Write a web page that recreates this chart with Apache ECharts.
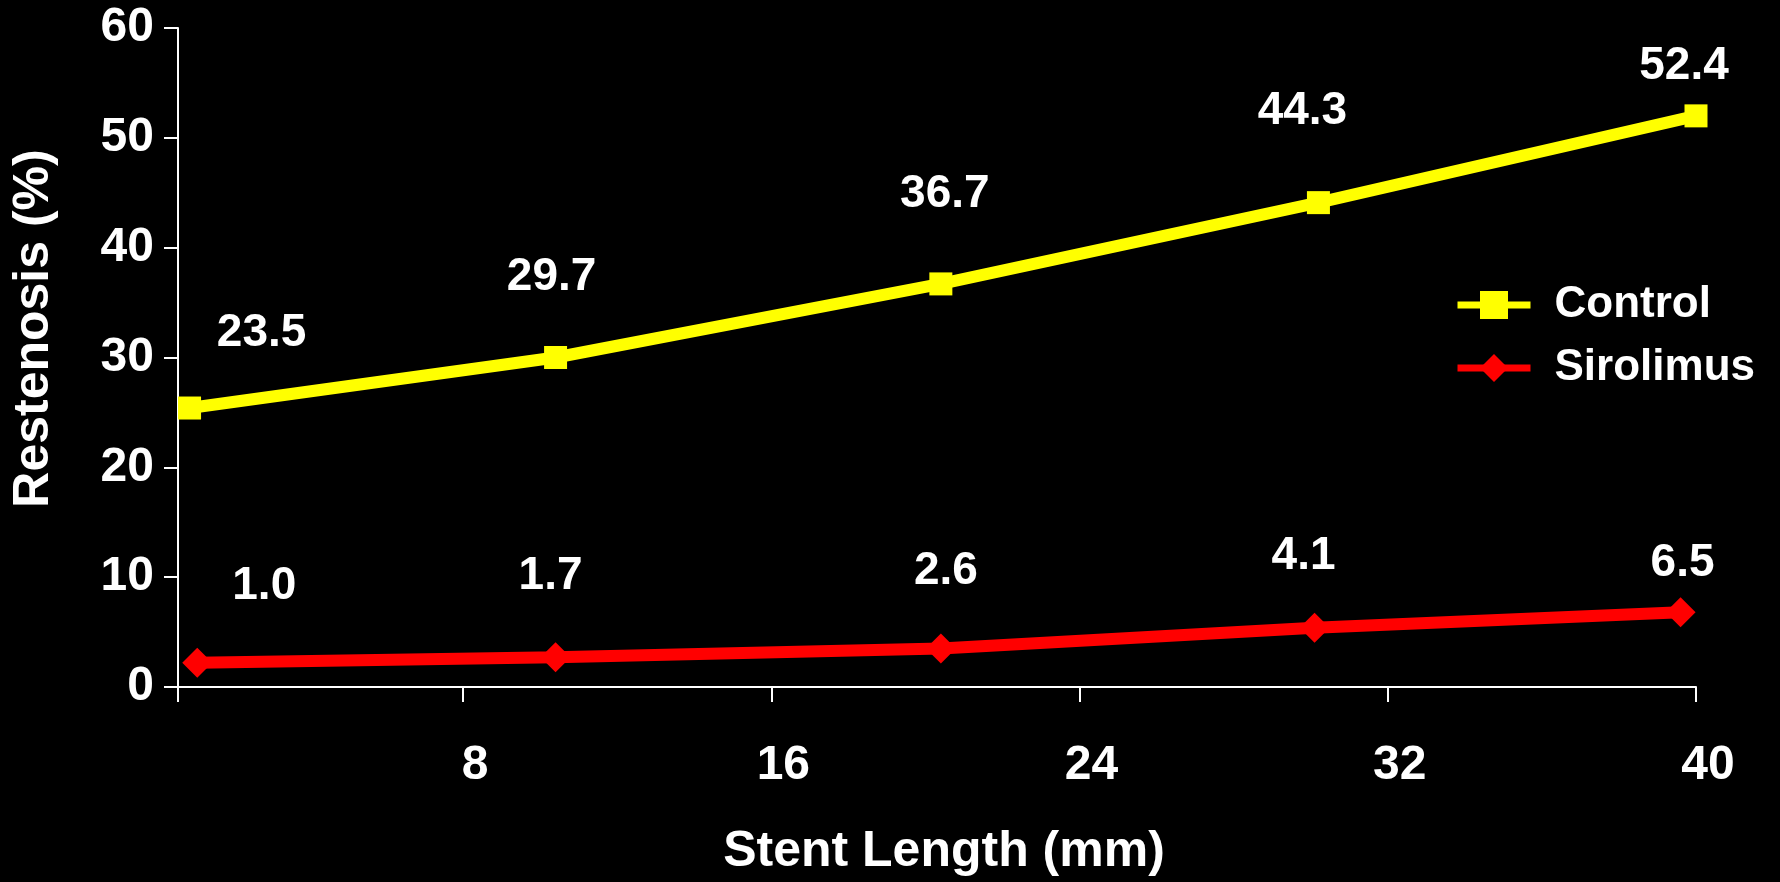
<!DOCTYPE html>
<html>
<head>
<meta charset="utf-8">
<script src="https://cdn.jsdelivr.net/npm/echarts@6/dist/echarts.min.js"></script>
<style>
  html, body { margin: 0; padding: 0; background: #000; }
  #chart { width: 1780px; height: 882px; }
</style>
</head>
<body>
<div id="chart"></div>
<script>
// ---- data ----
const seriesNames = ['Control', 'Sirolimus'];
const controlLengths = [0.9, 10.4, 20.4, 30.2, 40.0];
const controlValues = [25.4, 30.0, 36.7, 44.1, 52.0];
const controlLabels = ['23.5', '29.7', '36.7', '44.3', '52.4'];
const sirolimusLengths = [1.1, 10.4, 20.4, 30.1, 39.6];
const sirolimusValues = [2.2, 2.7, 3.5, 5.4, 6.8];
const sirolimusLabels = ['1.0', '1.7', '2.6', '4.1', '6.5'];
const xTickLabels = [8, 16, 24, 32, 40];
const yTickLabels = [0, 10, 20, 30, 40, 50, 60];

// ---- label placement (pixel offsets from each marker) ----
const controlLabelOffsets = [[72, -75], [-4, -80], [4, -90], [-16, -91], [-12, -50]];
const sirolimusLabelOffsets = [[67, -77], [-5, -81], [5, -77], [-11, -71], [2, -49]];

const FONT = '"Liberation Sans", Arial, Helvetica, sans-serif';

function buildData(xs, ys, labels, offsets) {
  return xs.map((x, i) => ({
    value: [x, ys[i]],
    label: { formatter: labels[i], offset: offsets[i] }
  }));
}

const labelStyle = {
  show: true,
  position: 'inside',
  color: '#ffffff',
  fontFamily: FONT,
  fontWeight: 'bold',
  fontSize: 46
};

const chart = echarts.init(document.getElementById('chart'), null, { renderer: 'canvas' });
chart.setOption({
  backgroundColor: '#000000',
  animation: false,
  grid: { left: 178, right: 84, top: 28, bottom: 194, containLabel: false },
  legend: {
    orient: 'vertical',
    left: 1449,
    top: 278,
    itemWidth: 73,
    itemHeight: 35,
    itemGap: 19,
    data: seriesNames,
    lineStyle: { width: 7 },
    textStyle: {
      color: '#ffffff',
      fontFamily: FONT,
      fontWeight: 'bold',
      fontSize: 44,
      padding: [0, 0, 0, 19]
    }
  },
  xAxis: {
    type: 'value',
    min: 0.6,
    max: 40,
    name: 'Stent Length (mm)',
    nameLocation: 'middle',
    nameGap: 140,
    nameTextStyle: {
      color: '#ffffff', fontFamily: FONT, fontWeight: 'bold', fontSize: 50,
      padding: [0, 0, 0, 14]
    },
    axisLine: { show: true, onZero: false, lineStyle: { color: '#ffffff', width: 2 } },
    axisTick: {
      show: true,
      length: 15,
      customValues: [0.6].concat(xTickLabels),
      lineStyle: { color: '#ffffff', width: 2 }
    },
    axisLabel: {
      customValues: xTickLabels,
      color: '#ffffff',
      fontFamily: FONT,
      fontWeight: 'bold',
      fontSize: 48,
      margin: 55,
      padding: [0, 0, 0, 24]
    },
    splitLine: { show: false }
  },
  yAxis: {
    type: 'value',
    min: 0,
    max: 60,
    interval: 10,
    name: 'Restenosis (%)',
    nameLocation: 'middle',
    nameRotate: 90,
    nameGap: 119,
    nameTextStyle: {
      color: '#ffffff', fontFamily: FONT, fontWeight: 'bold', fontSize: 50,
      padding: [0, 0, 0, 58]
    },
    axisLine: { show: true, lineStyle: { color: '#ffffff', width: 2 } },
    axisTick: { show: true, length: 14, lineStyle: { color: '#ffffff', width: 2 } },
    axisLabel: {
      color: '#ffffff',
      fontFamily: FONT,
      fontWeight: 'bold',
      fontSize: 48,
      margin: 24,
      padding: [14, 0, 0, 0],
      formatter: v => (yTickLabels.indexOf(v) >= 0 ? String(v) : '')
    },
    splitLine: { show: false }
  },
  series: [
    {
      name: seriesNames[0],
      type: 'line',
      data: buildData(controlLengths, controlValues, controlLabels, controlLabelOffsets),
      symbol: 'rect',
      symbolSize: 23,
      clip: false,
      lineStyle: { color: '#ffff00', width: 12 },
      itemStyle: { color: '#ffff00' },
      label: labelStyle
    },
    {
      name: seriesNames[1],
      type: 'line',
      data: buildData(sirolimusLengths, sirolimusValues, sirolimusLabels, sirolimusLabelOffsets),
      symbol: 'diamond',
      symbolSize: [30, 30],
      clip: false,
      lineStyle: { color: '#ff0000', width: 12 },
      itemStyle: { color: '#ff0000' },
      label: labelStyle
    }
  ]
});
</script>
</body>
</html>
